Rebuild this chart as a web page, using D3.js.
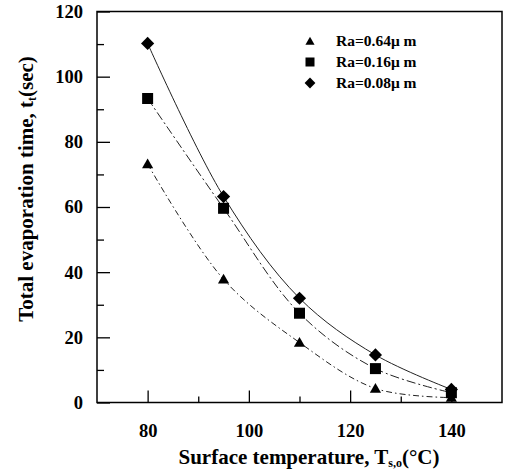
<!DOCTYPE html>
<html><head><meta charset="utf-8">
<script src="https://cdn.jsdelivr.net/npm/d3@7"></script>
<style>body{margin:0;background:#fff}svg{display:block}text{font-family:"Liberation Serif","Times New Roman",serif;font-weight:bold;fill:#000}</style>
</head><body>
<script>
const temps = [80, 95, 110, 125, 140];
const ra064 = [73.2, 37.8, 18.4, 4.3, 1.5];
const ra016 = [93.3, 59.6, 27.4, 10.4, 3.0];
const ra008 = [110.2, 63.2, 32.0, 14.6, 4.0];
const seriesNames = ["Ra=0.64\u03bc m", "Ra=0.16\u03bc m", "Ra=0.08\u03bc m"];
const xTicks = [80, 100, 120, 140];
const yTicks = [0, 20, 40, 60, 80, 100, 120];

const W = 507, H = 472;
const svg = d3.select("body").append("svg").attr("width", W).attr("height", H);
const x = d3.scaleLinear().domain([70, 150]).range([97, 502]);
const y = d3.scaleLinear().domain([0, 120]).range([402.5, 11.5]);

// frame
svg.append("rect").attr("x", 97).attr("y", 11.5).attr("width", 405).attr("height", 391)
  .attr("fill", "none").attr("stroke", "#000").attr("stroke-width", 1.5);

// x axis (ticks inward)
svg.append("g").attr("transform", "translate(0,402.5)")
  .call(d3.axisBottom(x).tickValues(xTicks).tickSize(-12).tickPadding(21).tickFormat(d3.format("d")));
svg.append("g").attr("transform", "translate(0,402.5)")
  .call(d3.axisBottom(x).tickValues([90, 110, 130]).tickSize(-6).tickFormat(""));
svg.append("g").attr("transform", "translate(97,0)")
  .call(d3.axisLeft(y).tickValues(yTicks).tickSize(-13).tickPadding(14).tickFormat(d3.format("d")));
svg.append("g").attr("transform", "translate(97,0)")
  .call(d3.axisLeft(y).tickValues([10, 30, 50, 70, 90, 110]).tickSize(-7).tickFormat(""));
svg.selectAll(".domain").remove();
svg.selectAll(".tick line").attr("stroke", "#000").attr("stroke-width", 1.3);
svg.selectAll(".tick text").style("font-size", "18.5px").style("font-family", "Liberation Serif").style("font-weight", "bold").attr("fill", "#000");

// lines
const series = [
  {vals: ra064, shape: "tri", dash: "6,3,1.5,3"},
  {vals: ra016, shape: "sq", dash: "9,3,2,3"},
  {vals: ra008, shape: "dia", dash: null}
];
const line = d3.line().x((d, i) => x(temps[i])).y(d => y(d)).curve(d3.curveCatmullRom.alpha(0.5));
series.forEach(s => {
  svg.append("path").attr("d", line(s.vals)).attr("fill", "none").attr("stroke", "#222")
    .attr("stroke-width", 1).attr("stroke-dasharray", s.dash);
});

function marker(g, shape, cx, cy, sz) {
  if (shape === "tri") {
    g.append("path").attr("d", d3.symbol(d3.symbolTriangle, sz * sz * 0.45)()).attr("transform", `translate(${cx},${cy + 1})`).attr("fill", "#000");
  } else if (shape === "sq") {
    g.append("rect").attr("x", cx - sz / 2).attr("y", cy - sz / 2).attr("width", sz).attr("height", sz).attr("fill", "#000");
  } else {
    const r = sz * 0.6;
    g.append("path").attr("d", `M${cx},${cy - r}L${cx + r},${cy}L${cx},${cy + r}L${cx - r},${cy}Z`).attr("fill", "#000");
  }
}
series.forEach(s => {
  s.vals.forEach((v, i) => marker(svg, s.shape, x(temps[i]), y(v), 11));
});

// legend
const legY = [41, 62, 83];
series.forEach((s, i) => {
  marker(svg, s.shape, 310, legY[i], 9);
  svg.append("text").attr("x", 336).attr("y", legY[i] + 5).style("font-size", "15.5px").text(seriesNames[i]);
});

// axis titles
const xt = svg.append("text").attr("x", 309).attr("y", 464).attr("text-anchor", "middle").style("font-size", "21px");
xt.append("tspan").text("Surface temperature, T");
xt.append("tspan").attr("dy", 3).style("font-size", "12px").text("s,o");
xt.append("tspan").attr("dy", -3).text("(\u00b0C)");

const yt = svg.append("text").attr("transform", "translate(33,189) rotate(-90)").attr("text-anchor", "middle").style("font-size", "21px");
yt.append("tspan").text("Total evaporation time, t");
yt.append("tspan").attr("dy", 3).style("font-size", "12px").text("t");
yt.append("tspan").attr("dy", -3).text("(sec)");
</script>
</body></html>
